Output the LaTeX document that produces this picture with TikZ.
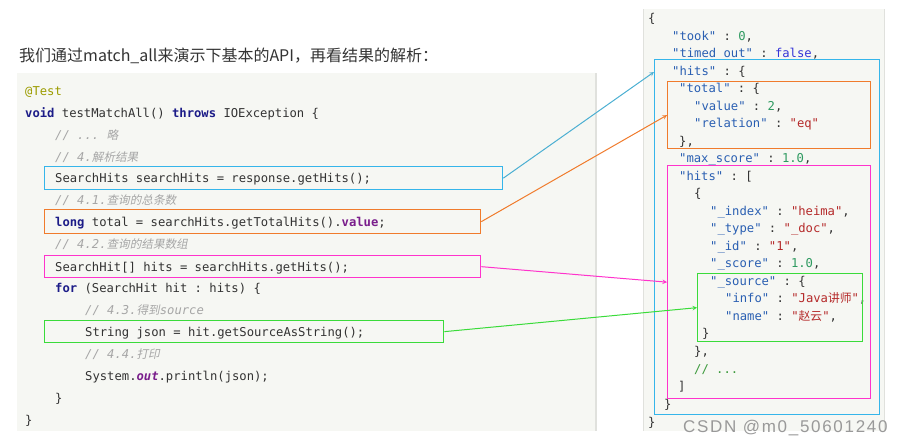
\documentclass[tikz,border=0pt]{standalone}
\usepackage{fontspec}
\setmainfont{Liberation Sans}
\setmonofont{DejaVu Sans Mono}
\newfontfamily\cjk{Noto Sans CJK SC}
\newfontfamily\cjkit[FakeSlant=0.2]{Noto Sans CJK SC}
\newfontfamily\wmfont[LetterSpace=10]{Liberation Sans}
\usepackage{tikz}
\usetikzlibrary{arrows, positioning}

\definecolor{panelbg}{HTML}{F6F7F3}
\definecolor{panelrule}{HTML}{E0E1DD}
\definecolor{codefg}{HTML}{333333}
\definecolor{kwblue}{HTML}{1C1C88}
\definecolor{kwpurple}{HTML}{7A1E8C}
\definecolor{metaolive}{HTML}{9C9C00}
\definecolor{cmtgray}{HTML}{A6A6A6}
\definecolor{keyblue}{HTML}{2A5FB2}
\definecolor{numgreen}{HTML}{2E9A60}
\definecolor{strred}{HTML}{B52A2A}
\definecolor{atomblue}{HTML}{3535D8}
\definecolor{cmtgreen}{HTML}{3C9A3C}
\definecolor{hlblue}{HTML}{35B5EA}
\definecolor{hlorange}{HTML}{F07B2C}
\definecolor{hlmagenta}{HTML}{FF33CC}
\definecolor{hlgreen}{HTML}{3ADB3A}
\definecolor{lnblue}{HTML}{4BAFD2}

\tikzstyle{code} = [anchor=base west, inner sep=0pt, text=codefg, font=\ttfamily\fontsize{12.2}{14}\selectfont]
\tikzstyle{cmt} = [code, text=cmtgray, font=\ttfamily\itshape\fontsize{12.2}{14}\selectfont]
\tikzstyle{hlbox} = [draw, line width=1.3pt, anchor=north west, inner sep=0pt]
\tikzstyle{link} = [->, >=stealth, line width=1pt]

\newcommand{\kw}[1]{\textcolor{kwblue}{\bfseries #1}}
\newcommand{\zh}[1]{{\cjkit\fontsize{11.6}{14}\selectfont #1}}
\newcommand{\jkey}[1]{\textcolor{keyblue}{#1}}
\newcommand{\jnum}[1]{\textcolor{numgreen}{#1}}
\newcommand{\jstr}[1]{\textcolor{strred}{#1}}

\begin{document}
\begin{tikzpicture}[x=1pt, y=-1pt]
    \useasboundingbox (0,0) rectangle (904,445);

    % Panels
    \fill[panelbg] (17,73) rectangle (595,431);
    \draw[panelrule, line width=2pt] (596,73) -- (596,431);
    \fill[panelbg] (643,9) rectangle (884,431);
    \draw[panelrule, line width=1pt] (643,9) -- (643,431);
    \draw[panelrule, line width=1pt] (884,9) -- (884,431);

    % Title
    \node[anchor=base west, inner sep=0pt, text=codefg, font=\cjk\fontsize{16}{18}\selectfont] (title) at (19,61) {我们通过match\_all来演示下基本的API，再看结果的解析：};

    % Java code
    \node[code, text=metaolive] (l1) at (25,95) {@Test};
    \node[code] (l2) at (25,117) {\kw{void} testMatchAll() \kw{throws} IOException \{};
    \node[cmt] (l3) at (55,139) {// ... \zh{略}};
    \node[cmt] (l4) at (55,161) {// 4.\zh{解析结果}};
    \node[code] (l5) at (55,182) {SearchHits searchHits = response.getHits();};
    \node[cmt] (l6) at (55,204) {// 4.1.\zh{查询的总条数}};
    \node[code] (l7) at (55,226) {\kw{long} total = searchHits.getTotalHits().\textcolor{kwpurple}{\bfseries value};};
    \node[cmt] (l8) at (55,248) {// 4.2.\zh{查询的结果数组}};
    \node[code] (l9) at (55,271) {SearchHit[] hits = searchHits.getHits();};
    \node[code] (l10) at (55,292) {\kw{for} (SearchHit hit : hits) \{};
    \node[cmt] (l11) at (85,314) {// 4.3.\zh{得到}source};
    \node[code] (l12) at (85,336) {String json = hit.getSourceAsString();};
    \node[cmt] (l13) at (85,358) {// 4.4.\zh{打印}};
    \node[code] (l14) at (85,380) {System.\textcolor{kwpurple}{\bfseries\itshape out}.println(json);};
    \node[code] (l15) at (55,402) {\}};
    \node[code] (l16) at (25,424) {\}};

    % JSON result
    \node[code] (j1) at (648,22) {\{};
    \node[code] (j2) at (672,40) {\jkey{"took"} : \jnum{0},};
    \node[code] (j3) at (672,57) {\jkey{"timed\_out"} : \textcolor{atomblue}{false},};
    \node[code] (j4) at (672,75) {\jkey{"hits"} : \{};
    \node[code] (j5) at (679,92) {\jkey{"total"} : \{};
    \node[code] (j6) at (694,110) {\jkey{"value"} : \jnum{2},};
    \node[code] (j7) at (694,127) {\jkey{"relation"} : \jstr{"eq"}};
    \node[code] (j8) at (679,145) {\},};
    \node[code] (j9) at (679,162) {\jkey{"max\_score"} : \jnum{1.0},};
    \node[code] (j10) at (679,180) {\jkey{"hits"} : [};
    \node[code] (j11) at (694,197) {\{};
    \node[code] (j12) at (710,215) {\jkey{"\_index"} : \jstr{"heima"},};
    \node[code] (j13) at (710,232) {\jkey{"\_type"} : \jstr{"\_doc"},};
    \node[code] (j14) at (710,250) {\jkey{"\_id"} : \jstr{"1"},};
    \node[code] (j15) at (710,267) {\jkey{"\_score"} : \jnum{1.0},};
    \node[code] (j16) at (710,285) {\jkey{"\_source"} : \{};
    \node[code] (j17) at (725,302) {\jkey{"info"} : \jstr{"Java{\cjk\fontsize{11.8}{14}\selectfont 讲师}"},};
    \node[code] (j18) at (725,320) {\jkey{"name"} : \jstr{"{\cjk\fontsize{11.8}{14}\selectfont 赵云}"},};
    \node[code] (j19) at (702,337) {\}};
    \node[code] (j20) at (694,355) {\},};
    \node[code, text=cmtgreen] (j21) at (694,373) {// ...};
    \node[code] (j22) at (678,390) {]};
    \node[code] (j23) at (664,408) {\}};
    \node[code] (j24) at (648,426) {\}};

    % Highlight boxes
    \node[hlbox, hlblue, minimum width=458pt, minimum height=23pt] (cHits) at (44,166) {};
    \node[hlbox, hlorange, minimum width=436pt, minimum height=24pt] (cTotal) at (44,209) {};
    \node[hlbox, hlmagenta, minimum width=436pt, minimum height=22pt] (cArr) at (44,255) {};
    \node[hlbox, hlgreen, minimum width=399pt, minimum height=22pt] (cSrc) at (44,320) {};

    \node[hlbox, hlblue, minimum width=225pt, minimum height=355pt] (jHits) at (654,59) {};
    \node[hlbox, hlorange, minimum width=203pt, minimum height=67pt] (jTotal) at (667,81) {};
    \node[hlbox, hlmagenta, minimum width=203pt, minimum height=233pt] (jArr) at (667,165) {};
    \node[hlbox, hlgreen, minimum width=165pt, minimum height=68pt] (jSrc) at (697,273) {};

    % Links
    \draw[link, lnblue] (cHits.east) -- ([yshift=-13pt]jHits.north west);
    \draw[link, hlorange] (cTotal.east) -- (jTotal.west);
    \draw[link, hlmagenta] (cArr.east) -- (jArr.west);
    \draw[link, hlgreen] (cSrc.east) -- (jSrc.west);

    % Watermark
    \node[anchor=base west, inner sep=0pt, text=gray!80, font=\wmfont\fontsize{17}{20}\selectfont] (wm) at (683,432) {CSDN @m0\_50601240};
\end{tikzpicture}
\end{document}
